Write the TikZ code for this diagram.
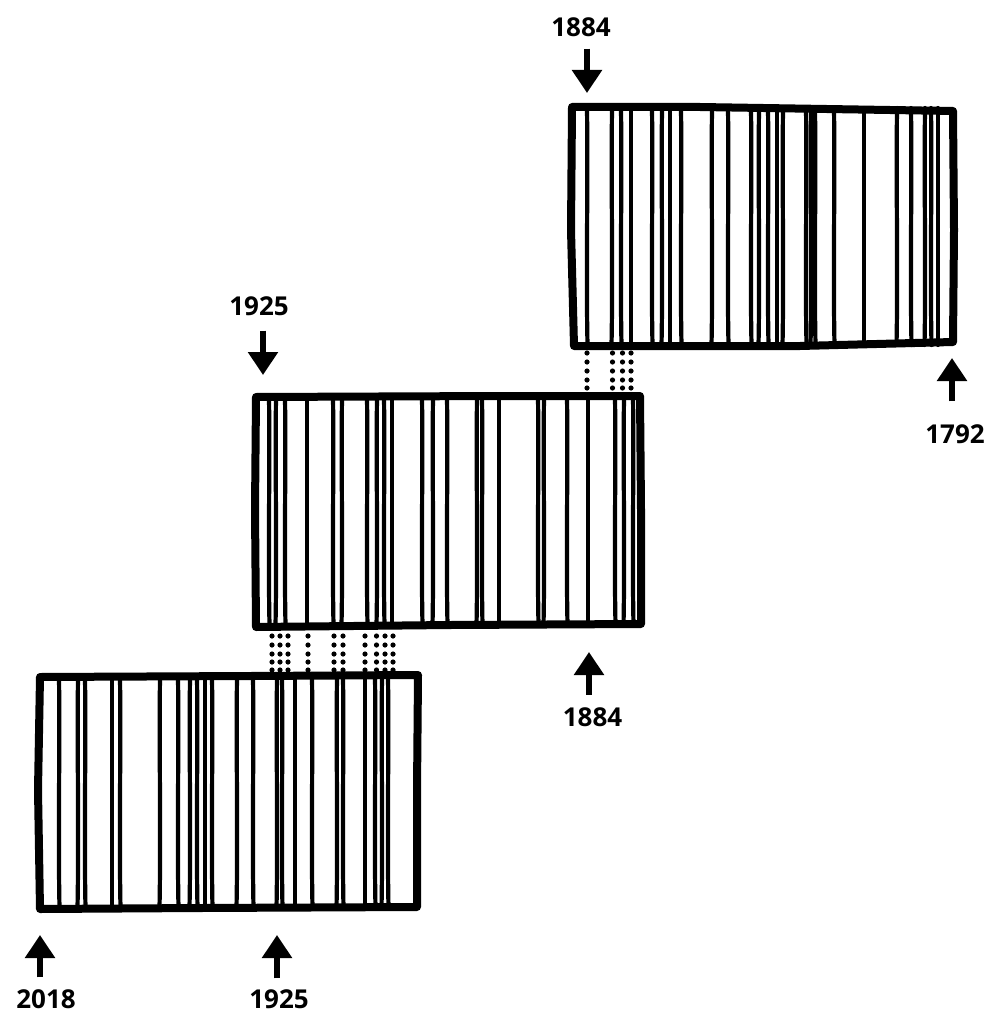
\documentclass[tikz,border=0pt]{standalone}
\usepackage{fontspec}
\setmainfont{Open Sans}
\usetikzlibrary{arrows.meta}
\begin{document}
\begin{tikzpicture}[x=1pt,y=-1pt,
  frame/.style={line width=8pt,line join=round,line cap=round},
  stripe/.style={line width=4.2pt,line cap=round},
  dotmark/.style={fill=black},
  arr/.style={line width=5.5pt,-{Triangle[width=29pt,length=23pt]}},
  year/.style={font=\bfseries\fontsize{26}{26}\selectfont,inner sep=0pt}]
\useasboundingbox (0,0) rectangle (1000,1032);

% ---- box 1 (top right) ----
\foreach \x/\d in {587/1,612/-1,621/1,631/0,652/1,662/-1,670/0,681/1,712/-1,728/1,751/1,759/-1,768/1,777/0,783/-1,806/1,811/-1,815/1,834/1,864/0,897/-1,911/1,925/-1,931/1,938/0}
  \draw[stripe] (\x,108) .. controls (\x+\d,190) and (\x-\d,270) .. (\x+0.5*\d,345);
\draw[frame] (572,107) -- (700,107) -- (953,111) -- (954,230) -- (953,342) -- (800,346) -- (574,346) -- (571,230) -- cycle;
\coordinate (b1tl) at (587,93);
\coordinate (b1br) at (952,358);

% ---- box 2 (middle) ----
\foreach \x/\d in {269/1,276/-1,285/1,307/0,333/1,342/-1,367/1,377/-1,384/1,392/0,422/1,433/-1,447/1,477/-1,482/1,499/0,538/1,544/-1,567/1,588/0,615/1,624/-1,633/1}
  \draw[stripe] (\x,397) .. controls (\x+\d,470) and (\x-\d,550) .. (\x+0.5*\d,625);
\draw[frame] (256,397) -- (500,396) -- (640,396) -- (641,510) -- (641,624) -- (450,625) -- (256,627) -- (255,510) -- cycle;
\coordinate (b2tl) at (263,375);
\coordinate (b2br) at (589,652);

% ---- box 3 (bottom left) ----
\foreach \x/\d in {59/1,78/-1,85/1,112/0,120/1,160/-1,178/1,190/-1,197/1,205/0,212/1,237/-1,253/1,277/-1,282/1,295/0,312/1,337/-1,343/1,365/0,375/1,382/-1,388/1}
  \draw[stripe] (\x,677) .. controls (\x+\d,750) and (\x-\d,830) .. (\x+0.5*\d,908);
\draw[frame] (40,677) -- (250,676) -- (418,675) -- (417,790) -- (417,907) -- (200,908) -- (40,909) -- (38,790) -- cycle;
\coordinate (b3bl) at (40,935);
\coordinate (b3bm) at (277,935);

% ---- dotted joins ----
\foreach \x in {587,612.5,622.5,631}
  \foreach \y in {353,362,371,380,388}
    \fill[dotmark] (\x,\y) circle (2.6pt);
\foreach \x in {272,280,288,308,334,343,365,376.5,385,393}
  \foreach \y in {636,645,654,662,670}
    \fill[dotmark] (\x,\y) circle (2.6pt);

% ---- labels and arrows ----
\node[year] (y1884a) at (581,27) {1884};
\draw[arr,shorten <=12pt] (y1884a.south -| b1tl) -- (b1tl);

\node[year] (y1792) at (955,434) {1792};
\draw[arr,shorten <=23pt] (y1792.north -| b1br) -- (b1br);

\node[year] (y1925a) at (259,306) {1925};
\draw[arr,shorten <=15pt] (y1925a.south -| b2tl) -- (b2tl);

\node[year] (y1884b) at (592.5,717.5) {1884};
\draw[arr,shorten <=13pt] (y1884b.north -| b2br) -- (b2br);

\node[year] (y2018) at (46,999) {2018};
\draw[arr,shorten <=12pt] (y2018.north -| b3bl) -- (b3bl);

\node[year] (y1925b) at (279,999) {1925};
\draw[arr,shorten <=11pt] (y1925b.north -| b3bm) -- (b3bm);
\end{tikzpicture}
\end{document}
